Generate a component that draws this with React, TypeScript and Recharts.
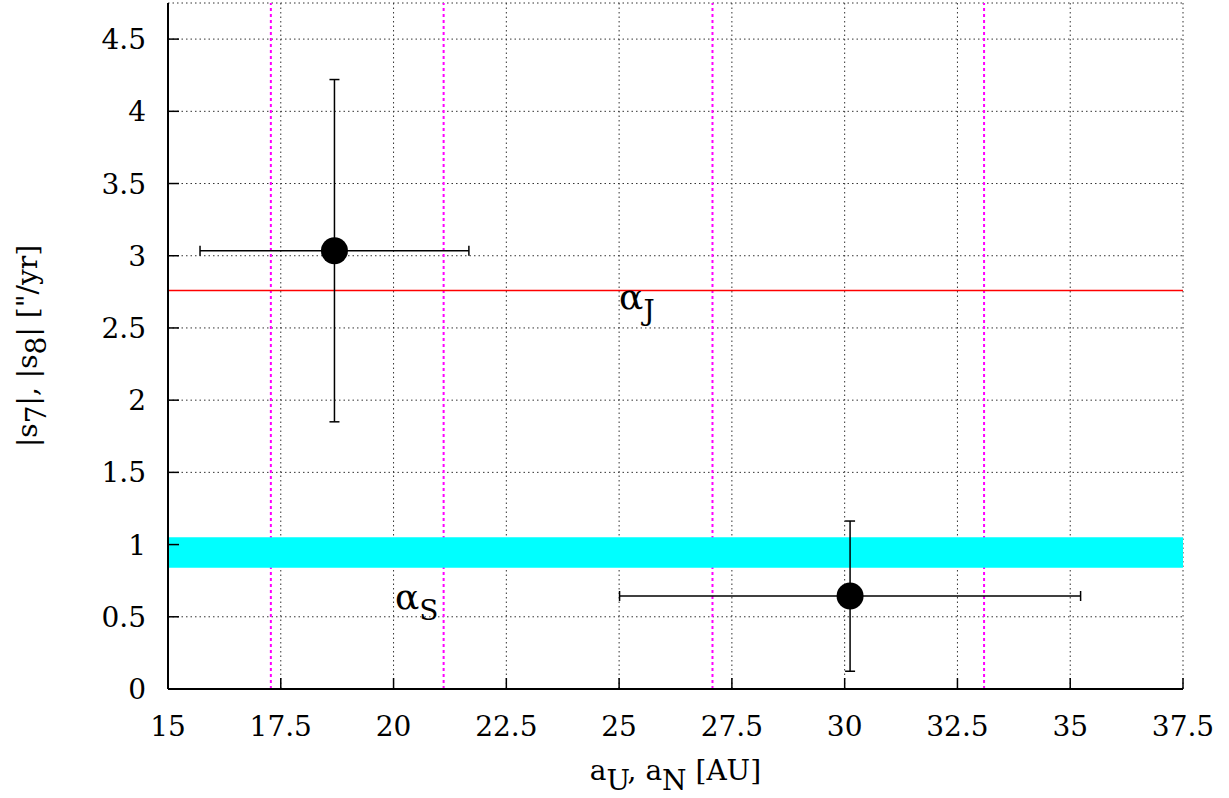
import React from 'react';
import {
  ComposedChart,
  Scatter,
  ErrorBar,
  XAxis,
  YAxis,
  CartesianGrid,
  ReferenceLine,
  ReferenceArea,
  ReferenceDot,
  Label,
} from 'recharts';

const FONT = 'DejaVu Serif, serif';
const FS = 28;
const txt = { fontFamily: FONT, fontSize: FS };

// measured points (a, |s|) with error ranges
const pointX = [18.69, 30.12];
const pointY = [3.035, 0.644];
const xLow = [15.71, 25.01];
const xHigh = [21.67, 35.23];
const yLow = [1.85, 0.123];
const yHigh = [4.22, 1.163];

const magentaX = [17.28, 21.11, 27.07, 33.09];
const alphaJ = 2.76;
const alphaSBand = [0.84, 1.05];

const xTicks = [15, 17.5, 20, 22.5, 25, 27.5, 30, 32.5, 35, 37.5];
const yTicks = [0, 0.5, 1, 1.5, 2, 2.5, 3, 3.5, 4, 4.5];

const data = pointX.map((x, i) => ({
  x,
  y: pointY[i],
  xErr: [x - xLow[i], xHigh[i] - x],
  yErr: [pointY[i] - yLow[i], yHigh[i] - pointY[i]],
}));

const TICK = 11;

const BottomTick = (props: any) => {
  const { x, y, payload } = props;
  return (
    <g>
      <line x1={x} y1={y} x2={x} y2={y - TICK} stroke="#000" strokeWidth={1.5} />
      <text x={x} y={y + 47} textAnchor="middle" style={txt} fill="#000">
        {payload.value}
      </text>
    </g>
  );
};

const TopTick = (props: any) => {
  const { x, y } = props;
  return <line x1={x} y1={y} x2={x} y2={y + TICK} stroke="#000" strokeWidth={1.5} />;
};

const LeftTick = (props: any) => {
  const { x, y, payload } = props;
  return (
    <g>
      <line x1={x} y1={y} x2={x + TICK} y2={y} stroke="#000" strokeWidth={1.5} />
      <text x={x - 22} y={y + 10} textAnchor="end" style={txt} fill="#000">
        {payload.value}
      </text>
    </g>
  );
};

const RightTick = (props: any) => {
  const { x, y } = props;
  return <line x1={x} y1={y} x2={x - TICK} y2={y} stroke="#000" strokeWidth={1.5} />;
};

const XLabel = (props: any) => {
  const { viewBox } = props;
  const cx = viewBox.x + viewBox.width / 2;
  const y = viewBox.y + 91;
  return (
    <text x={cx} y={y} textAnchor="middle" style={txt} fill="#000">
      <tspan>a</tspan>
      <tspan dy={10}>U</tspan>
      <tspan dy={-10}>, a</tspan>
      <tspan dy={10}>N</tspan>
      <tspan dy={-10}> [AU]</tspan>
    </text>
  );
};

const YLabel = (props: any) => {
  const { viewBox } = props;
  const x = viewBox.x + 37;
  const y = viewBox.y + viewBox.height / 2;
  return (
    <text
      x={x}
      y={y}
      textAnchor="middle"
      style={txt}
      fill="#000"
      transform={`rotate(-90, ${x}, ${y})`}
    >
      <tspan>|s</tspan>
      <tspan dy={9}>7</tspan>
      <tspan dy={-9}>|, |s</tspan>
      <tspan dy={9}>8</tspan>
      <tspan dy={-9}>| ["/yr]</tspan>
    </text>
  );
};

const alphaText = (sub: string) => (props: any) => {
  const { cx, cy } = props;
  return (
    <text x={cx} y={cy} style={txt} fill="#000">
      <tspan fontSize={36}>α</tspan>
      <tspan dy={11}>{sub}</tspan>
    </text>
  );
};

const Dot = (props: any) => <circle cx={props.cx} cy={props.cy} r={13.5} fill="#000" />;

export default function App() {
  return (
    <div style={{ position: 'absolute', left: 0, top: 0, background: '#fff' }}>
      <ComposedChart
        width={1229}
        height={798}
        data={data}
        margin={{ top: 3, right: 46, bottom: 49, left: 0 }}
      >
        <CartesianGrid stroke="#333" strokeDasharray="1.5 3" strokeWidth={1} />
        <XAxis
          type="number"
          dataKey="x"
          domain={[15, 37.5]}
          ticks={xTicks}
          allowDataOverflow
          height={60}
          tickSize={0}
          tickMargin={0}
          tickLine={false}
          axisLine={{ stroke: '#000', strokeWidth: 2 }}
          tick={<BottomTick />}
        >
          <Label content={<XLabel />} />
        </XAxis>
        <XAxis
          xAxisId="top"
          orientation="top"
          type="number"
          domain={[15, 37.5]}
          ticks={xTicks}
          allowDataOverflow
          height={0}
          tickSize={0}
          tickMargin={0}
          tickLine={false}
          axisLine={{ stroke: '#000', strokeWidth: 2 }}
          tick={<TopTick />}
        />
        <YAxis
          type="number"
          dataKey="y"
          domain={[0, 4.75]}
          ticks={yTicks}
          allowDataOverflow
          width={168}
          tickSize={0}
          tickMargin={0}
          tickLine={false}
          axisLine={{ stroke: '#000', strokeWidth: 2 }}
          tick={<LeftTick />}
        >
          <Label content={<YLabel />} />
        </YAxis>
        <YAxis
          yAxisId="right"
          orientation="right"
          type="number"
          domain={[0, 4.75]}
          ticks={yTicks}
          allowDataOverflow
          width={0}
          tickSize={0}
          tickMargin={0}
          tickLine={false}
          axisLine={{ stroke: '#000', strokeWidth: 2 }}
          tick={<RightTick />}
        />
        {magentaX.map((mx) => (
          <ReferenceLine
            key={mx}
            x={mx}
            stroke="#ff00ff"
            strokeWidth={2}
            strokeDasharray="3 3"
            zIndex={50}
          />
        ))}
        <ReferenceArea
          y1={alphaSBand[0]}
          y2={alphaSBand[1]}
          fill="#00ffff"
          fillOpacity={1}
          stroke="none"
          zIndex={100}
        />
        <ReferenceLine y={alphaJ} stroke="#ff0000" strokeWidth={1.5} />
        <ReferenceDot x={25.0} y={2.63} r={0} shape={alphaText('J')} />
        <ReferenceDot x={20.03} y={0.554} r={0} shape={alphaText('S')} />
        <Scatter data={data} fill="#000" shape={<Dot />} isAnimationActive={false}>
          <ErrorBar dataKey="xErr" direction="x" width={5} stroke="#000" strokeWidth={1.5} />
          <ErrorBar dataKey="yErr" direction="y" width={5} stroke="#000" strokeWidth={1.5} />
        </Scatter>
      </ComposedChart>
    </div>
  );
}
